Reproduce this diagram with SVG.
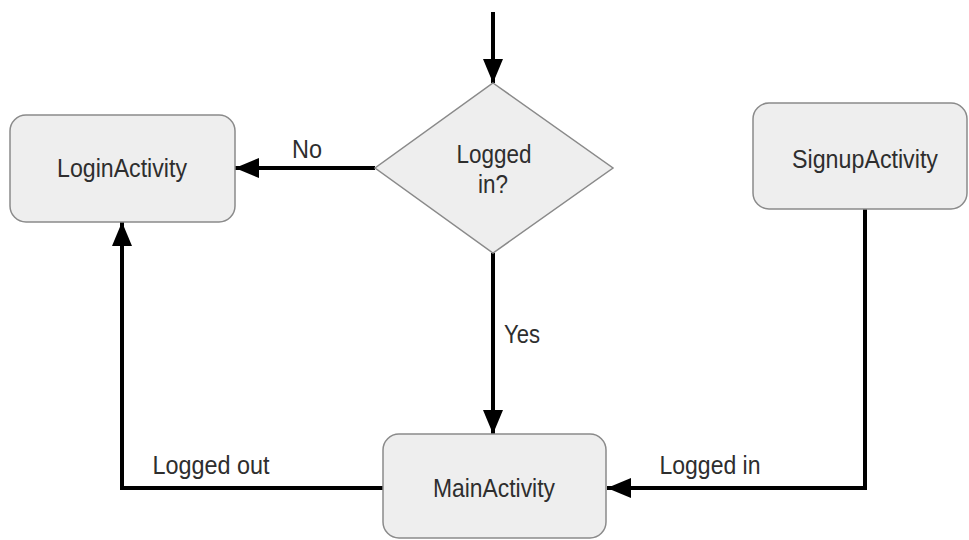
<svg xmlns="http://www.w3.org/2000/svg" width="969" height="540" viewBox="0 0 969 540">
<defs>
<marker id="arr" viewBox="0 0 24 20" refX="24" refY="10" markerWidth="24" markerHeight="20" orient="auto" markerUnits="userSpaceOnUse">
<path d="M0,0 L24,10 L0,20 Z" fill="#000"/>
</marker>
<style>
.node{fill:#eeeeee;stroke:#8a8a8a;stroke-width:1.5}
.lbl{font-family:"Liberation Sans",Arial,sans-serif;font-size:25px;fill:#2e2e2e}
.edge{fill:none;stroke:#000;stroke-width:4;marker-end:url(#arr)}
</style>
</defs>
<rect width="969" height="540" fill="#fff"/>
<g id="connectors">
<path class="edge" d="M493,12 V83"/>
<path class="edge" d="M375,168 H235"/>
<path class="edge" d="M493,253 V434"/>
<path class="edge" d="M383,488 H122 V222"/>
<path class="edge" d="M865,209 V488 H607"/>
<text class="lbl" x="307" y="158" text-anchor="middle" textLength="30" lengthAdjust="spacingAndGlyphs">No</text>
<text class="lbl" x="522" y="343" text-anchor="middle" textLength="36" lengthAdjust="spacingAndGlyphs">Yes</text>
<text class="lbl" x="211" y="474" text-anchor="middle" textLength="117" lengthAdjust="spacingAndGlyphs">Logged out</text>
<text class="lbl" x="710" y="474" text-anchor="middle" textLength="101" lengthAdjust="spacingAndGlyphs">Logged in</text>
</g>
<g id="login">
<rect class="node" x="10" y="115" width="225" height="107" rx="16"/>
<text class="lbl" x="122" y="177" text-anchor="middle" textLength="130" lengthAdjust="spacingAndGlyphs">LoginActivity</text>
</g>
<g id="decision">
<polygon class="node" points="493,83 613,168 493,253 375,168"/>
<text class="lbl" x="494" y="163" text-anchor="middle" textLength="75" lengthAdjust="spacingAndGlyphs">Logged</text>
<text class="lbl" x="493" y="193" text-anchor="middle" textLength="30" lengthAdjust="spacingAndGlyphs">in?</text>
</g>
<g id="signup">
<rect class="node" x="753" y="103" width="214" height="106" rx="16"/>
<text class="lbl" x="865" y="168" text-anchor="middle" textLength="146" lengthAdjust="spacingAndGlyphs">SignupActivity</text>
</g>
<g id="main">
<rect class="node" x="383" y="434" width="223" height="104" rx="16"/>
<text class="lbl" x="494" y="497" text-anchor="middle" textLength="122" lengthAdjust="spacingAndGlyphs">MainActivity</text>
</g>
</svg>
